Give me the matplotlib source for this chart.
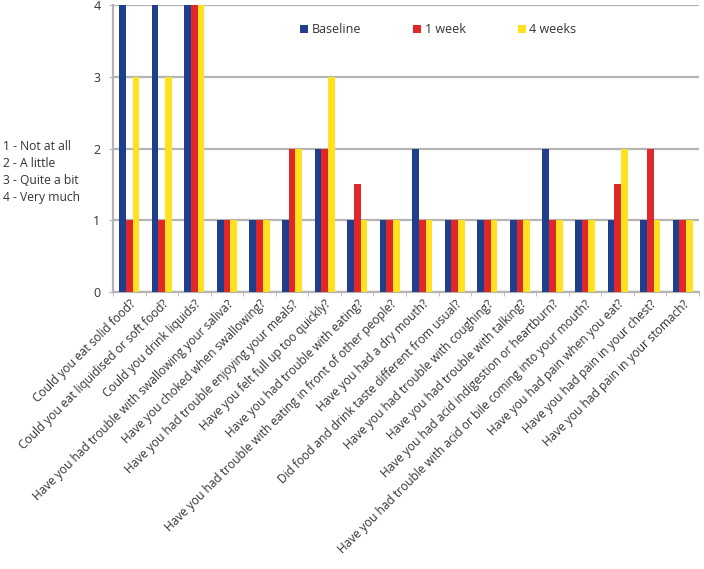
import numpy as np
import matplotlib
matplotlib.use('Agg')
import matplotlib.pyplot as plt

# Perguntas e respostas (escala 1-4)
questions = [
    'Could you eat solid food?',
    'Could you eat liquidised or soft food?',
    'Could you drink liquids?',
    'Have you had trouble with swallowing your saliva?',
    'Have you choked when swallowing?',
    'Have you had trouble enjoying your meals?',
    'Have you felt full up too quickly?',
    'Have you had trouble with eating?',
    'Have you had trouble with eating in front of other people?',
    'Have you had a dry mouth?',
    'Did food and drink taste different from usual?',
    'Have you had trouble with coughing?',
    'Have you had trouble with talking?',
    'Have you had acid indigestion or heartburn?',
    'Have you had trouble with acid or bile coming into your mouth?',
    'Have you had pain when you eat?',
    'Have you had pain in your chest?',
    'Have you had pain in your stomach?',
]
baseline = [4, 4, 4, 1, 1, 1, 2, 1, 1, 2, 1, 1, 1, 2, 1, 1, 1, 1]
week1 = [1, 1, 4, 1, 1, 2, 2, 1.5, 1, 1, 1, 1, 1, 1, 1, 1.5, 2, 1]
week4 = [3, 3, 4, 1, 1, 2, 3, 1, 1, 1, 1, 1, 1, 1, 1, 2, 1, 1]
series_names = ['Baseline', '1 week', '4 weeks']
scale_labels = ['1 - Not at all', '2 - A little', '3 - Quite a bit', '4 - Very much']

colors = ['#1F3F8C', '#E0282A', '#FFE11F']
text_color = '#333333'
grid_color = '#B4B4B4'

plt.rcParams['font.family'] = ['Open Sans', 'DejaVu Sans']

fig = plt.figure(figsize=(7.04, 5.69), dpi=100)
ax = fig.add_axes([113 / 704, 1 - 292 / 569, 586 / 704, 287 / 569])

x = np.arange(len(questions))
w = 0.205
for i, (vals, name) in enumerate(zip([baseline, week1, week4], series_names)):
    ax.bar(x + (i - 1) * w, vals, width=w, color=colors[i], label=name, zorder=3)

ax.set_xlim(-0.5, len(questions) - 0.5)
ax.set_ylim(0, 4)
ax.set_yticks([0, 1, 2, 3, 4])
ax.yaxis.grid(True, color=grid_color, linewidth=1.6, zorder=0)
ax.tick_params(axis='y', length=3, color=grid_color, labelsize=9, labelcolor=text_color, pad=6)

ax.set_xticks(x)
ax.set_xticklabels(questions, rotation=45, ha='right', rotation_mode='anchor',
                   fontsize=8.6, color=text_color)
ax.tick_params(axis='x', which='major', length=0, pad=4)
ax.set_xticks(np.arange(-0.5, len(questions)), minor=True)
ax.tick_params(axis='x', which='minor', length=3, color=grid_color)

for s in ['top', 'right']:
    ax.spines[s].set_visible(False)
for s in ['left', 'bottom']:
    ax.spines[s].set_color(grid_color)
    ax.spines[s].set_linewidth(1.6)

leg = ax.legend(loc='upper left', bbox_to_anchor=(0.3, 0.975), ncol=3, frameon=False,
                fontsize=9, handlelength=0.6, handleheight=0.6, handletextpad=0.3,
                columnspacing=4.2)
for t in leg.get_texts():
    t.set_color(text_color)

for k, lab in enumerate(scale_labels):
    fig.text(3 / 704, 1 - (147 + k * 16.8) / 569, lab, fontsize=8.7, color=text_color,
             va='center', ha='left')

fig.savefig('out.png', dpi=100, facecolor='white')
